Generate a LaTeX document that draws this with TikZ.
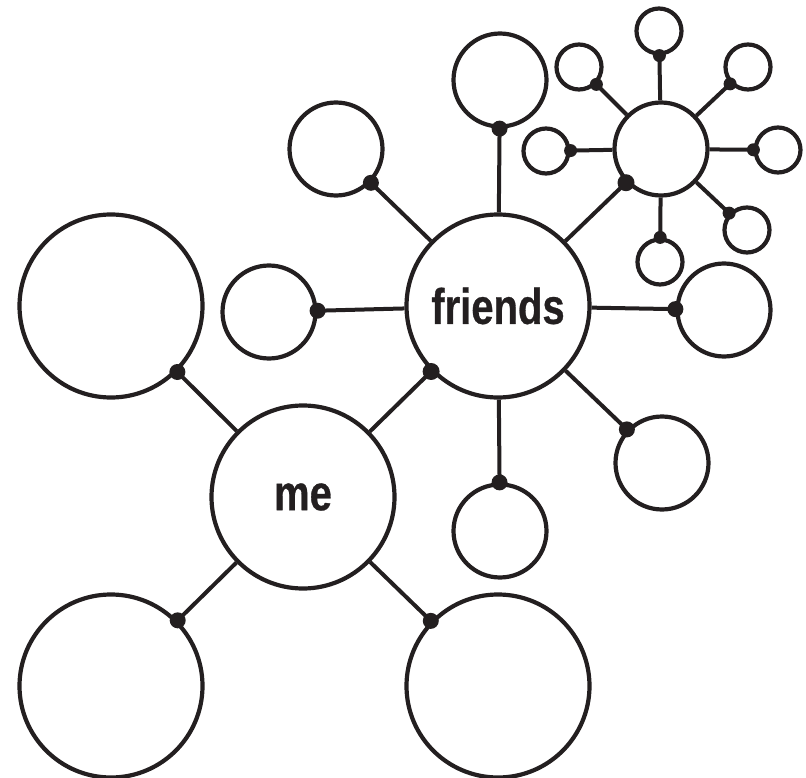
\documentclass[tikz,border=0pt]{standalone}
\usepackage{fontspec}
\newfontfamily\mapfont{Liberation Sans}[FakeStretch=0.80, BoldFeatures={FakeBold=0.6}]
\usepackage{xcolor}
\usetikzlibrary{positioning}
\definecolor{ink}{RGB}{35, 31, 32}

\begin{document}
\begin{tikzpicture}[
    x=1pt, y=-1pt,
    % Styles definition
    base/.style={circle, draw=ink, line width=4.2pt, inner sep=0pt, text=ink},
    center/.style={base, minimum size=183pt, font=\mapfont\bfseries\fontsize{50}{60}\selectfont},
    big/.style={base, minimum size=183pt},
    medium/.style={base, minimum size=93pt},
    small/.style={base, minimum size=45pt},
    joint/.style={circle, fill=ink, draw=none, inner sep=0pt, minimum size=16pt},
    bigjoint/.style={joint, minimum size=17pt},
    smalljoint/.style={joint, minimum size=13pt},
    link/.style={draw=ink, line width=4pt}
]
\useasboundingbox (0,0) rectangle (806,778);

% 1. Me and its circles
\node[center] (me) at (303, 497) {me};
\node[big] (me-nw) at (111, 306) {};
\node[big] (me-sw) at (111, 686) {};
\node[big] (me-se) at (498, 686) {};

% 2. Friends and its circles
\node[center] (friends) at (498, 306) {friends};
\node[medium] (fr-w) at (269, 312) {};
\node[medium] (fr-nw) at (336, 149) {};
\node[medium] (fr-n) at (500, 80) {};
\node[medium] (fr-e) at (724, 310) {};
\node[medium] (fr-se) at (662, 463) {};
\node[medium] (fr-s) at (500, 531) {};

% 3. Small hub and its satellites
\node[medium] (hub) at (661, 149) {};
\node[small] (hub-n) at (659, 31) {};
\node[small] (hub-nw) at (579, 67) {};
\node[small] (hub-ne) at (748, 67) {};
\node[small] (hub-w) at (546, 151) {};
\node[small] (hub-e) at (778, 150) {};
\node[small] (hub-se) at (747, 230) {};
\node[small] (hub-s) at (660, 262) {};

% --- Links ---

% Me -> circles
\draw[link] (me) -- node[joint, pos=1] {} (me-nw);
\draw[link] (me) -- node[joint, pos=1] {} (me-sw);
\draw[link] (me) -- node[joint, pos=1] {} (me-se);
\draw[link] (me) -- node[bigjoint, pos=1] {} (friends);

% Friends -> circles
\foreach \target in {fr-w, fr-nw, fr-n, fr-e, fr-se, fr-s}
    \draw[link] (friends) -- node[joint, pos=1] {} (\target);
\draw[link] (friends) -- node[bigjoint, pos=1] {} (hub);

% Hub -> satellites
\foreach \target in {hub-n, hub-nw, hub-ne, hub-w, hub-e, hub-se, hub-s}
    \draw[link] (hub) -- node[smalljoint, pos=1] {} (\target);

\end{tikzpicture}
\end{document}
